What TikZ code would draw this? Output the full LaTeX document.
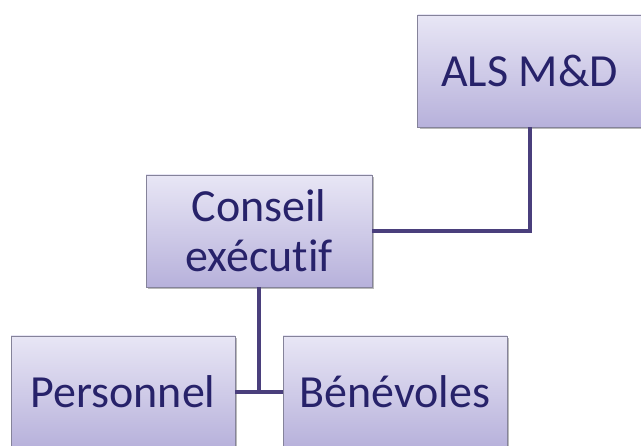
\documentclass[tikz,border=0pt]{standalone}
\usepackage{fontspec}
\setmainfont{Carlito}[Ligatures=NoCommon]
\usepackage{tikz}
\usetikzlibrary{shadows}

\definecolor{boxtop}{HTML}{E8E6F5}
\definecolor{boxbot}{HTML}{B7B1DB}
\definecolor{boxline}{HTML}{85839A}
\definecolor{boxtext}{HTML}{27226A}
\definecolor{linkcol}{HTML}{4A3F7C}

\begin{document}
\begin{tikzpicture}[x=1pt, y=-1pt,
        orgbox/.style={draw=boxline, line width=0.8pt, top color=boxtop, bottom color=boxbot,
            minimum width=224pt, minimum height=112pt, align=center, text=boxtext,
            font=\fontsize{46}{50}\selectfont, inner sep=0pt,
            drop shadow={shadow xshift=2pt, shadow yshift=-2pt, fill=black!45, opacity=0.6}},
        link/.style={draw=linkcol, line width=4pt}]
    \useasboundingbox (0,0) rectangle (641,446);
        \node[orgbox] (als) at (529.5,71) {ALS M\&D};
        \node[orgbox, minimum width=226pt] (conseil) at (259,231) {Conseil\\exécutif};
        \node[orgbox] (pers) at (123,392) {Personnel};
        \node[orgbox] (benev) at (395,392) {Bénévoles};

        \draw[link] (als.south) |- (conseil.east);
        \draw[link] (pers.east) -- (benev.west);
        \draw[link] (conseil.south) -- (conseil.south |- pers.east);
\end{tikzpicture}
\end{document}
